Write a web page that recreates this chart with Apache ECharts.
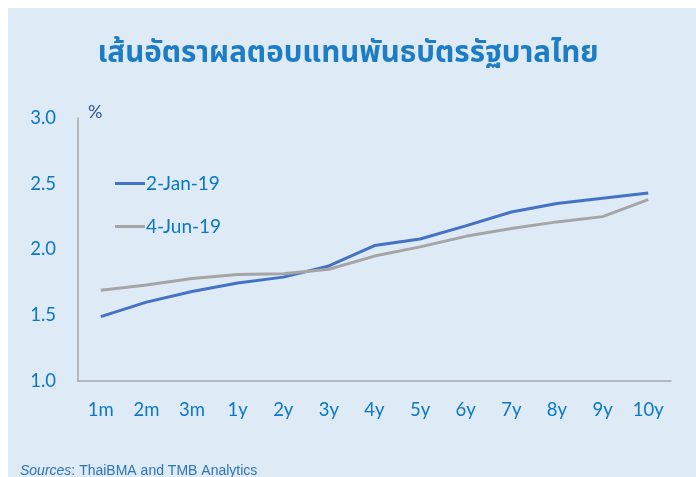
<!DOCTYPE html>
<html>
<head>
<meta charset="utf-8">
<script src="https://cdn.jsdelivr.net/npm/echarts@6/dist/echarts.min.js"></script>
<style>
	html, body { margin: 0; padding: 0; background: #ffffff; }
	#chart { width: 696px; height: 477px; }
</style>
</head>
<body>
<div id="chart"></div>
<script>
(function () {
	// ข้อมูลจากภาพ
	var tenors = ["1m", "2m", "3m", "1y", "2y", "3y", "4y", "5y", "6y", "7y", "8y", "9y", "10y"];
	var jan19 = [1.49, 1.60, 1.68, 1.745, 1.79, 1.875, 2.03, 2.08, 2.18, 2.285, 2.35, 2.39, 2.43];
	var jun19 = [1.69, 1.73, 1.78, 1.81, 1.815, 1.85, 1.95, 2.02, 2.10, 2.16, 2.21, 2.25, 2.38];
	var seriesNames = ["2-Jan-19", "4-Jun-19"];
	var yTicks = [1.0, 1.5, 2.0, 2.5, 3.0];

	var textBlue = "#0A78C2";
	var labelFont = "Lato, 'Open Sans', sans-serif";

	var chart = echarts.init(document.getElementById("chart"));
	chart.setOption({
		backgroundColor: "#ffffff",
		animation: false,
		graphic: [
			{
				type: "rect",
				z: -10,
				shape: { x: 8, y: 8, width: 700, height: 480 },
				style: { fill: "#DEEAF6" }
			},
			{
				type: "text",
				left: 88,
				top: 103,
				style: { text: "%", fill: "#2F5597", font: "18px " + labelFont }
			},
			{
				type: "text",
				left: 20,
				top: 464,
				style: {
					text: "{i|Sources}: ThaiBMA and TMB Analytics",
					fill: "#2E75B6",
					font: "14px 'Liberation Sans', Arial, sans-serif",
					rich: {
						i: { fontStyle: "italic", fill: "#2E75B6", fontSize: 14, fontFamily: "'Liberation Sans', Arial, sans-serif" }
					}
				}
			}
		],
		title: {
			text: "เส้นอัตราผลตอบแทนพันธบัตรรัฐบาลไทย",
			left: "center",
			top: 36,
			textStyle: {
				color: "#1C7CC4",
				fontSize: 29.5,
				fontWeight: "bold",
				fontFamily: "'Noto Sans Thai', 'Noto Sans', 'DejaVu Sans', sans-serif"
			}
		},
		legend: {
			orient: "vertical",
			left: 115,
			top: 174,
			padding: 0,
			itemGap: 24,
			itemWidth: 30,
			itemHeight: 3,
			icon: "rect",
			data: seriesNames,
			textStyle: { color: textBlue, fontSize: 19, fontFamily: labelFont, padding: [0, 0, 0, -4] }
		},
		grid: { left: 78, right: 25, top: 118, bottom: 96 },
		xAxis: {
			type: "category",
			data: tenors,
			boundaryGap: true,
			axisLine: { lineStyle: { color: "#A6A6A6", width: 1.5 } },
			axisTick: { show: false },
			axisLabel: { color: textBlue, fontSize: 18.5, fontFamily: labelFont, margin: 20 }
		},
		yAxis: {
			type: "value",
			min: yTicks[0],
			max: yTicks[yTicks.length - 1],
			interval: 0.5,
			axisLine: { show: true, lineStyle: { color: "#A6A6A6", width: 1.5 } },
			axisTick: { show: false },
			splitLine: { show: false },
			axisLabel: {
				color: textBlue,
				fontSize: 18.5,
				fontFamily: labelFont,
				margin: 22,
				formatter: function (v) { return v.toFixed(1); }
			}
		},
		series: [
			{
				name: seriesNames[0],
				type: "line",
				data: jan19,
				symbol: "none",
				lineStyle: { color: "#4472C4", width: 3 },
				itemStyle: { color: "#4472C4" }
			},
			{
				name: seriesNames[1],
				type: "line",
				data: jun19,
				symbol: "none",
				lineStyle: { color: "#A5A5A5", width: 3 },
				itemStyle: { color: "#A5A5A5" }
			}
		]
	});
})();
</script>
</body>
</html>
